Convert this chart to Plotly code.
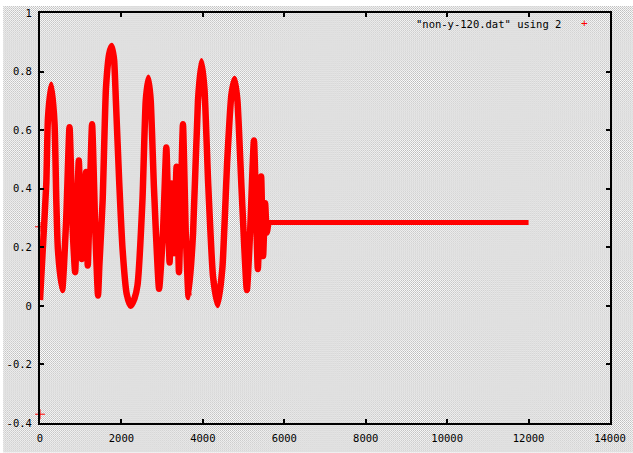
import base64
import plotly.graph_objects as go

# Values (column 2 of "non-y-120.dat")
x_osc = [0, 73, 155, 195, 277, 358, 400, 440, 545, 643, 725, 806, 863, 953, 1026,
         1132, 1173, 1279, 1360, 1425, 1458, 1539, 1620, 1700, 1759, 1820, 1864, 1947,
         2028, 2130, 2225, 2320, 2394, 2516, 2597, 2663, 2720, 2800, 2925, 3020, 3103,
         3183, 3232, 3291, 3354, 3413, 3511, 3580, 3650, 3760, 3880, 3965, 4040, 4130,
         4250, 4366, 4480, 4600, 4700, 4780, 4850, 4950, 5081, 5160, 5255, 5350, 5431,
         5480, 5529, 5570, 5611]
y_osc = [0.02, 0.205, 0.42, 0.64, 0.755, 0.62, 0.36, 0.193, 0.054, 0.294, 0.61, 0.25,
         0.115, 0.496, 0.16, 0.457, 0.138, 0.62, 0.25, 0.035, 0.138, 0.36, 0.743, 0.86,
         0.887, 0.84, 0.70, 0.418, 0.193, 0.04, 0.0, 0.025, 0.07, 0.36, 0.70, 0.779,
         0.70, 0.40, 0.058, 0.25, 0.541, 0.148, 0.418, 0.18, 0.475, 0.115, 0.62, 0.25,
         0.03, 0.25, 0.70, 0.835, 0.74, 0.42, 0.10, 0.003, 0.13, 0.50, 0.72, 0.775,
         0.70, 0.40, 0.054, 0.25, 0.565, 0.126, 0.442, 0.17, 0.35, 0.25, 0.285]
x_flat = [5611, 12000]
y_flat = [0.285, 0.285]
x_first = [0, 0]
y_first = [0.27, -0.37]

x_ticks = [0, 2000, 4000, 6000, 8000, 10000, 12000, 14000]
x_ticktext = ["0", "2000", "4000", "6000", "8000", "10000", "12000", "14000"]
y_ticks = [-0.4, -0.2, 0, 0.2, 0.4, 0.6, 0.8, 1]
y_ticktext = ["-0.4", "-0.2", "0", "0.2", "0.4", "0.6", "0.8", "1"]
legend_label = '"non-y-120.dat" using 2'

FONT = "DejaVu Sans Mono"
RED = "#ff0000"

W, H = 633, 453
ML, MR, MT, MB = 37, 23, 7, 30
pw, ph = W - ML - MR, H - MT - MB

# dithered gray background like the original bitmap
svg = (f'<svg xmlns="http://www.w3.org/2000/svg" width="{W}" height="{H}" '
       f'shape-rendering="crispEdges">'
       '<defs><pattern id="p" width="2" height="2" patternUnits="userSpaceOnUse">'
       '<rect width="2" height="2" fill="#ffffff"/>'
       '<rect x="0" y="0" width="1" height="1" fill="#b8b8b8"/>'
       '<rect x="1" y="1" width="1" height="1" fill="#c8c8c8"/>'
       '</pattern></defs>'
       f'<rect width="{W}" height="{H}" fill="url(#p)"/></svg>')
src = "data:image/svg+xml;base64," + base64.b64encode(svg.encode()).decode()

fig = go.Figure()
fig.add_trace(go.Scatter(x=x_osc, y=y_osc, mode="lines",
                         line=dict(color=RED, width=6.5, shape="spline", smoothing=0.5),
                         showlegend=False, hoverinfo="skip"))
fig.add_trace(go.Scatter(x=x_flat, y=y_flat, mode="lines",
                         line=dict(color=RED, width=5),
                         showlegend=False, hoverinfo="skip"))
fig.add_trace(go.Scatter(x=x_first, y=y_first, mode="markers",
                         marker=dict(symbol="cross-thin", size=7,
                                     line=dict(color=RED, width=1)),
                         cliponaxis=False, showlegend=False, hoverinfo="skip"))

axis_common = dict(showline=True, linecolor="black", linewidth=2, mirror="allticks",
                   ticks="inside", ticklen=4, tickwidth=2, tickcolor="black",
                   showgrid=False, zeroline=False,
                   tickfont=dict(family=FONT, size=10.5, color="black"))

fig.update_xaxes(range=[0, 14000], tickvals=x_ticks, ticktext=x_ticktext,
                 ticklabelstandoff=4, **axis_common)
fig.update_yaxes(range=[-0.4, 1], tickvals=y_ticks, ticktext=y_ticktext,
                 ticklabelstandoff=4, **axis_common)

fig.add_annotation(xref="paper", yref="paper", x=(563 - ML) / pw, y=1 - (18 - MT) / ph,
                   xanchor="right", yanchor="middle", showarrow=False,
                   text=legend_label, font=dict(family=FONT, size=10.5, color="black"))
fig.add_annotation(xref="paper", yref="paper", x=(584 - ML) / pw, y=1 - (18 - MT) / ph,
                   xanchor="center", yanchor="middle", showarrow=False,
                   text="+", font=dict(family=FONT, size=11, color=RED))

fig.add_layout_image(dict(source=src, xref="paper", yref="paper",
                          x=-ML / pw, y=1 + MT / ph, sizex=W / pw, sizey=H / ph,
                          xanchor="left", yanchor="top", sizing="stretch",
                          layer="below"))

fig.update_layout(width=W, height=H, margin=dict(l=ML, r=MR, t=MT, b=MB),
                  paper_bgcolor="#ffffff", plot_bgcolor="rgba(0,0,0,0)",
                  showlegend=False)

fig.write_html("out.html", config={"displayModeBar": False},
               post_script="document.body.style.margin='0';document.body.style.overflow='hidden';")
